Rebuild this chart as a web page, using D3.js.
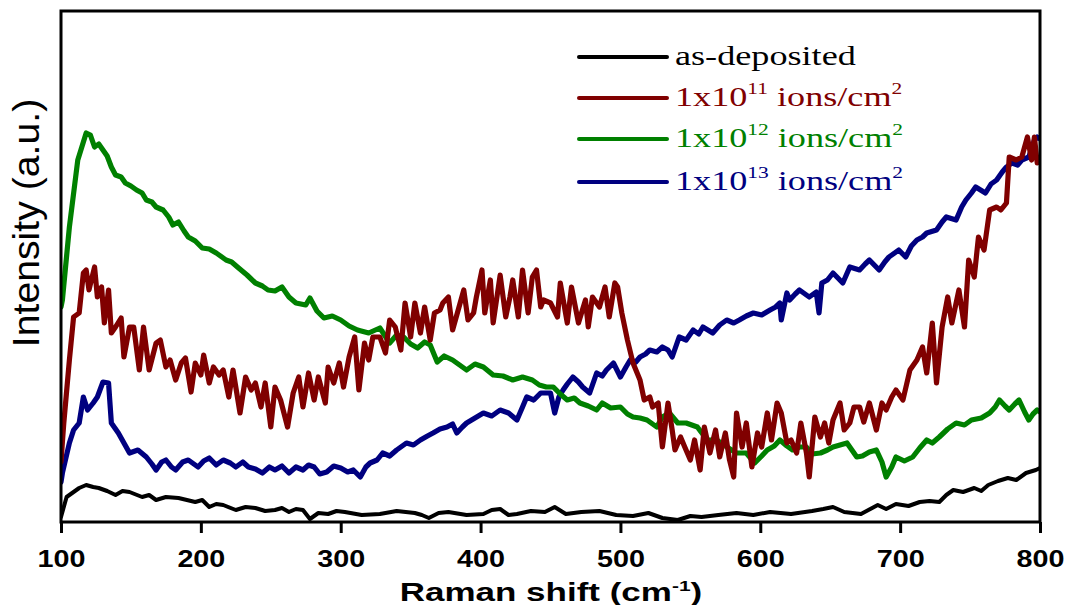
<!DOCTYPE html>
<html>
<head>
<meta charset="utf-8">
<script src="https://cdn.jsdelivr.net/npm/d3@7"></script>
<style>
  body { margin: 0; background: #fff; }
  svg { display: block; }
</style>
</head>
<body>
<div id="chart"></div>
<script>
// Raman spectra, intensity in arbitrary units, [shift (cm-1), intensity]
const asDeposited = [[100,5],[104,25],[108,29],[113,34],[118,37],[123,35],[127,34],[133,31],[139,27],[144,31],[149,30],[158,25],[163,27],[168,22],[175,25],[184,24],[190,22],[196,20],[201,22],[206,15],[211,18],[216,17],[225,12],[232,15],[239,14],[246,11],[253,12],[258,14],[263,10],[268,13],[273,12],[278,3],[284,9],[291,8],[297,11],[303,10],[315,7],[328,8],[340,11],[353,9],[358,7],[363,4],[370,9],[377,10],[390,7],[402,8],[408,12],[414,13],[420,7],[426,8],[436,11],[446,10],[453,15],[461,8],[472,10],[485,11],[497,7],[509,6],[520,9],[530,4],[541,2],[550,6],[558,5],[570,7],[583,9],[595,7],[607,10],[622,8],[637,11],[645,13],[652,15],[660,10],[672,8],[684,17],[690,13],[697,18],[706,16],[714,20],[721,21],[728,20],[733,27],[738,32],[745,30],[753,34],[758,31],[763,37],[770,41],[777,44],[783,42],[790,49],[797,52],[800,54]];

const ions1e11 = [[100,60],[101,80],[102,99],[106,162],[109,205],[113,209],[116,249],[118,252],[120,232],[124,255],[126,225],[129,235],[131,199],[134,232],[136,189],[139,195],[143,204],[145,165],[149,195],[152,195],[156,152],[159,195],[163,152],[168,179],[171,182],[175,155],[178,162],[182,142],[186,159],[189,164],[193,130],[196,159],[200,147],[202,167],[206,139],[209,155],[213,147],[216,152],[220,125],[223,152],[228,109],[232,145],[236,132],[239,139],[243,115],[246,139],[250,95],[253,135],[257,122],[262,95],[266,129],[270,145],[273,115],[277,149],[281,122],[284,145],[289,119],[291,155],[295,139],[299,159],[302,135],[306,165],[310,185],[313,132],[317,179],[320,162],[323,185],[328,185],[332,169],[335,202],[339,195],[343,172],[346,219],[350,185],[353,219],[357,189],[360,215],[364,182],[367,209],[371,212],[373,219],[377,225],[380,192],[384,212],[388,232],[391,202],[395,209],[397,225],[401,252],[403,209],[407,242],[409,199],[414,247],[418,205],[421,225],[423,242],[427,205],[430,252],[434,209],[437,245],[440,252],[443,215],[445,222],[450,219],[455,205],[457,239],[462,199],[465,235],[470,199],[475,222],[477,195],[480,225],[485,215],[489,235],[492,205],[496,239],[498,235],[501,209],[505,182],[509,159],[514,142],[517,122],[521,125],[523,115],[527,119],[530,75],[534,119],[537,92],[539,72],[543,85],[546,75],[550,62],[553,82],[557,52],[560,95],[564,69],[568,92],[571,65],[575,89],[578,62],[581,45],[583,109],[587,75],[590,99],[594,55],[598,89],[601,75],[605,109],[608,82],[612,119],[615,109],[619,79],[622,82],[626,69],[629,99],[633,69],[635,45],[639,105],[643,85],[646,99],[649,79],[652,102],[657,119],[660,92],[664,99],[667,115],[671,115],[674,100],[678,119],[683,92],[687,119],[690,112],[694,125],[697,132],[702,122],[707,152],[712,162],[716,175],[719,149],[723,199],[726,139],[730,195],[734,225],[737,199],[742,232],[746,195],[749,262],[753,245],[756,285],[760,272],[764,312],[769,315],[772,312],[776,319],[778,365],[783,362],[787,365],[791,385],[794,362],[796,385],[798,359],[800,362]];

const ions1e12 = [[100,215],[101,222],[106,295],[112,362],[118,389],[121,387],[124,375],[127,378],[130,372],[133,366],[136,355],[139,347],[143,345],[146,339],[150,336],[154,332],[158,329],[161,322],[165,320],[168,315],[173,312],[177,305],[180,297],[184,300],[188,291],[191,285],[196,281],[201,274],[206,273],[211,269],[218,262],[222,260],[227,254],[233,247],[239,239],[244,236],[248,232],[253,231],[258,235],[263,225],[268,219],[275,217],[278,224],[283,211],[288,204],[294,206],[300,202],[306,196],[312,192],[320,189],[328,194],[335,179],[340,187],[345,185],[350,178],[355,174],[360,180],[364,177],[369,160],[374,166],[380,162],[385,157],[390,152],[396,158],[402,155],[409,147],[416,146],[423,142],[430,145],[437,142],[442,137],[447,135],[452,135],[457,128],[462,122],[467,124],[471,119],[477,116],[483,112],[487,119],[493,114],[500,115],[505,108],[509,105],[514,104],[519,102],[526,95],[530,105],[535,109],[541,99],[547,99],[551,97],[555,95],[562,82],[569,82],[576,75],[583,69],[590,69],[596,59],[601,66],[605,72],[610,76],[614,82],[619,76],[623,72],[628,75],[633,75],[637,68],[643,69],[648,72],[652,75],[657,77],[662,79],[669,65],[673,66],[678,70],[683,72],[687,60],[690,45],[694,55],[697,65],[703,61],[709,65],[714,74],[719,82],[723,79],[728,85],[734,93],[740,99],[746,97],[751,102],[758,104],[764,109],[768,115],[771,122],[775,116],[778,112],[782,118],[785,122],[789,110],[792,102],[795,108],[798,112],[800,110]];

const ions1e13 = [[100,40],[101,49],[106,79],[109,92],[113,99],[116,125],[119,112],[123,119],[126,125],[130,140],[134,139],[136,99],[141,89],[145,79],[149,69],[155,72],[161,65],[165,58],[168,52],[172,60],[175,62],[179,55],[182,52],[187,60],[191,62],[198,55],[202,61],[206,64],[211,57],[216,62],[221,59],[225,55],[230,60],[234,55],[239,53],[244,49],[249,55],[253,52],[258,56],[263,49],[268,55],[273,52],[277,57],[281,55],[285,48],[290,50],[295,56],[300,54],[305,50],[309,52],[314,45],[318,55],[321,59],[326,62],[330,69],[335,66],[340,72],[344,76],[347,79],[352,77],[357,82],[362,86],[366,89],[371,93],[376,95],[380,98],[383,89],[387,95],[390,99],[396,104],[402,109],[408,106],[414,112],[420,109],[426,102],[430,115],[433,125],[438,122],[443,129],[450,129],[453,109],[456,125],[459,132],[462,138],[466,145],[470,140],[473,135],[478,129],[483,149],[487,146],[490,152],[495,159],[500,145],[504,155],[507,162],[511,160],[514,165],[518,168],[521,172],[526,170],[530,175],[534,172],[537,165],[542,185],[547,182],[552,192],[556,188],[559,195],[566,189],[571,197],[576,202],[581,199],[585,202],[590,206],[595,209],[601,207],[607,212],[611,215],[614,219],[615,202],[619,229],[621,222],[625,228],[628,232],[635,225],[640,230],[642,209],[644,239],[648,242],[652,249],[659,239],[664,255],[671,252],[675,258],[678,262],[685,252],[689,260],[692,265],[699,272],[704,265],[708,276],[712,282],[716,285],[719,289],[726,292],[730,300],[733,305],[740,302],[744,315],[747,322],[751,329],[754,335],[761,329],[765,338],[769,342],[773,350],[776,355],[780,359],[784,357],[787,362],[792,365],[796,382],[798,385],[800,383]];

const seriesNames = ["as-deposited", "1x10", "1x10", "1x10"];
const seriesExp = [null, "11", "12", "13"];
const seriesColors = ["#000000", "#800000", "#008000", "#000080"];
const seriesData = [asDeposited, ions1e11, ions1e12, ions1e13];
const xTicks = [100, 200, 300, 400, 500, 600, 700, 800];

const W = 1071, H = 605;
const margin = {top: 11, right: 31, bottom: 83, left: 61};
const width = W - margin.left - margin.right;
const height = H - margin.top - margin.bottom;

const svg = d3.select("#chart").append("svg")
  .attr("width", W)
  .attr("height", H);

const g = svg.append("g")
  .attr("transform", "translate(" + margin.left + "," + margin.top + ")");

const x = d3.scaleLinear().domain([100, 800]).range([0, width]);
const y = d3.scaleLinear().domain([0, 511]).range([height, 0]);

g.append("clipPath").attr("id", "plot-clip")
  .append("rect")
  .attr("width", width)
  .attr("height", height);

const line = d3.line()
  .x(function (d) { return x(d[0]); })
  .y(function (d) { return y(d[1]); });

// draw order: black, blue, green, red on top where they cross
const order = [0, 3, 2, 1];
g.append("g").attr("clip-path", "url(#plot-clip)")
  .selectAll("path")
  .data(order)
  .enter().append("path")
    .attr("d", function (i) { return line(seriesData[i]); })
    .attr("fill", "none")
    .attr("stroke", function (i) { return seriesColors[i]; })
    .attr("stroke-width", function (i) { return i === 0 ? 4 : 5.2; })
    .attr("stroke-linejoin", "round")
    .attr("stroke-linecap", "round");

// frame
g.append("rect")
  .attr("width", width)
  .attr("height", height)
  .attr("fill", "none")
  .attr("stroke", "#000")
  .attr("stroke-width", 3);

const xAxis = g.append("g")
  .attr("transform", "translate(0," + height + ")")
  .call(d3.axisBottom(x).tickValues(xTicks).tickSize(11).tickSizeOuter(0));

xAxis.select(".domain").remove();
xAxis.selectAll(".tick line").attr("stroke", "#000").attr("stroke-width", 3);
xAxis.selectAll(".tick text")
  .attr("y", 45)
  .attr("dy", 0)
  .attr("transform", "scale(1.25,1)")
  .style("font", "bold 23px 'Liberation Sans', Arial, sans-serif")
  .attr("fill", "#000");

// axis titles
const xTitle = svg.append("text")
  .attr("transform", "translate(551,601) scale(1.4,1)")
  .attr("text-anchor", "middle")
  .style("font", "bold 25px 'Liberation Sans', Arial, sans-serif");
xTitle.append("tspan").text("Raman shift (cm");
xTitle.append("tspan").attr("dy", -10).style("font-size", "15px").text("-1");
xTitle.append("tspan").attr("dy", 10).text(")");

svg.append("text")
  .attr("transform", "translate(39,223) rotate(-90) scale(1.06,1)")
  .attr("text-anchor", "middle")
  .style("font", "37px 'Liberation Sans', Arial, sans-serif")
  .text("Intensity (a.u.)");

// legend
const legendY = [57, 98, 139, 182];
const legend = svg.append("g").selectAll("g")
  .data(seriesNames)
  .enter().append("g")
    .attr("transform", function (d, i) { return "translate(0," + legendY[i] + ")"; });

legend.append("line")
  .attr("x1", 579).attr("x2", 667)
  .attr("stroke", function (d, i) { return seriesColors[i]; })
  .attr("stroke-width", 4)
  .attr("stroke-linecap", "round");

legend.each(function (d, i) {
  const t = d3.select(this).append("text")
    .attr("transform", "translate(675,8) scale(1.34,1)")
    .attr("fill", seriesColors[i])
    .style("font", "27px 'Liberation Serif', 'Times New Roman', serif");
  t.append("tspan").text(d);
  if (seriesExp[i]) {
    t.append("tspan").attr("dy", -12).style("font-size", "16px").text(seriesExp[i]);
    t.append("tspan").attr("dy", 12).text(" ions/cm");
    t.append("tspan").attr("dy", -12).style("font-size", "16px").text("2");
  }
});
</script>
</body>
</html>
